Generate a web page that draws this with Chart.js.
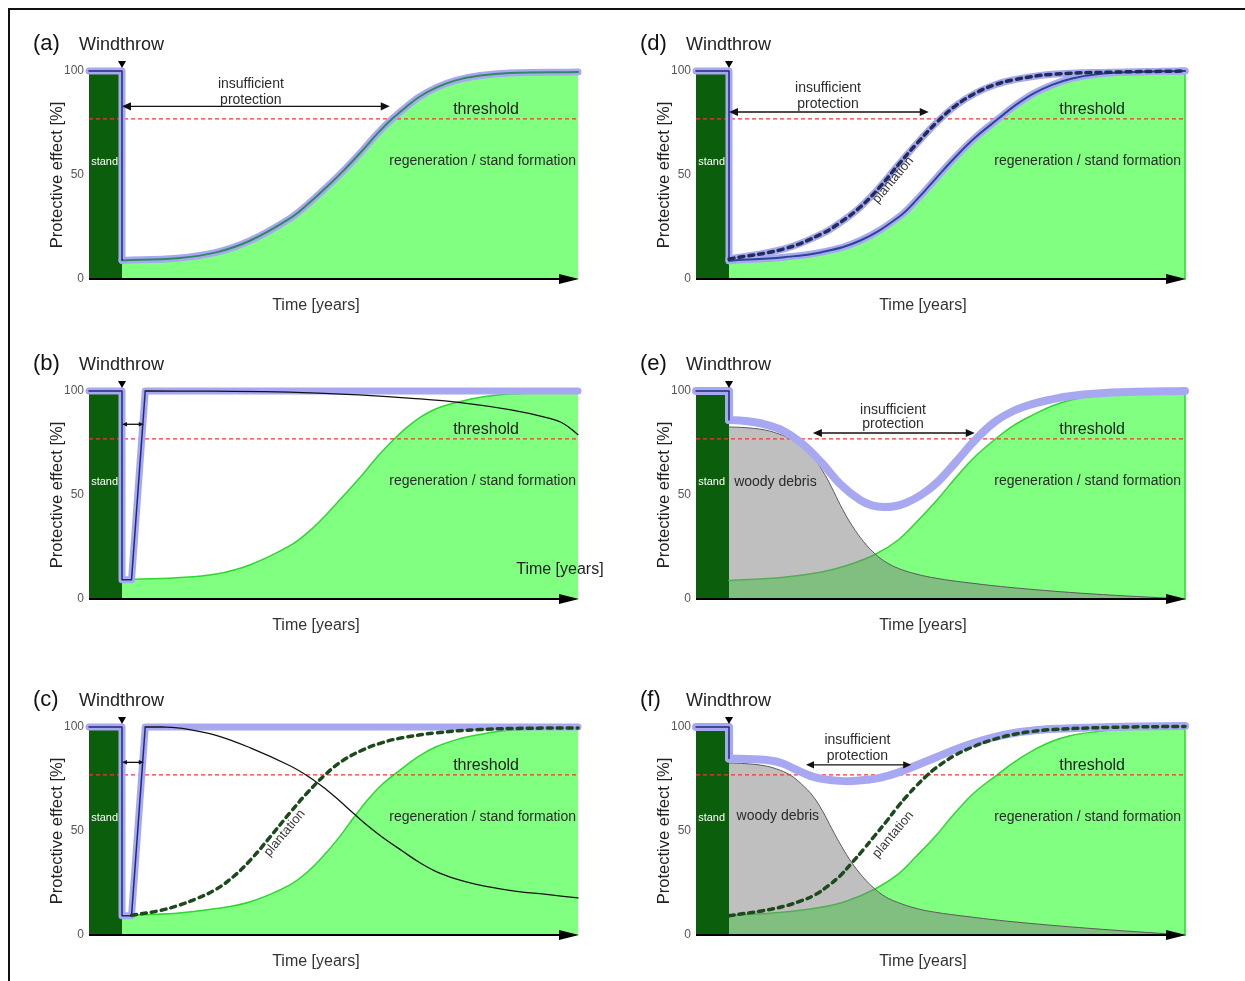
<!DOCTYPE html>
<html><head><meta charset="utf-8">
<script src="https://cdn.jsdelivr.net/npm/chart.js@4.4.1/dist/chart.umd.min.js"></script>
<style>
html,body{margin:0;padding:0;background:#fff;width:1245px;height:981px;overflow:hidden;position:relative;}
#frame{position:absolute;left:8px;top:8px;width:1300px;height:1000px;border-left:2px solid #111;border-top:2px solid #111;}
canvas{position:absolute;}
</style></head><body>
<div id="frame"></div>
<canvas id="pa" width="600" height="300" style="left:20px;top:25px;width:600px;height:300px"></canvas>
<canvas id="pb" width="600" height="300" style="left:20px;top:345px;width:600px;height:300px"></canvas>
<canvas id="pc" width="600" height="300" style="left:20px;top:681px;width:600px;height:300px"></canvas>
<canvas id="pd" width="600" height="300" style="left:627px;top:25px;width:600px;height:300px"></canvas>
<canvas id="pe" width="600" height="300" style="left:627px;top:345px;width:600px;height:300px"></canvas>
<canvas id="pf" width="600" height="300" style="left:627px;top:681px;width:600px;height:300px"></canvas>
<script>
// ---------- data (x = time, 0..100 arbitrary units; y = protective effect %) ----------
const Y_TICKS = [0, 50, 100];
const THRESHOLD = 77;
const STAND_END = 6.75;
const STAND_X = [0, 6.75];
const STAND_Y = [100, 100];
const THR_X = [0, 100];
const EDGE_X = [100, 100];
const EDGE_Y = [0, 99.5];

// (a) natural regeneration only
const dropXa = [0, 6.75, 6.75];
const dropYa = [100, 100, 9];
const regenXa = [6.75, 18, 26, 33, 41, 45, 48.5, 52, 56, 59, 62, 65, 67.5, 71, 75, 80, 86, 100];
const regenYa = [9, 10, 12.8, 18.5, 29, 36.5, 44, 52, 62, 70, 77, 83, 87.5, 92, 95.5, 97.8, 99, 99.5];

// (b) technical protection (ramp) + regeneration
const rampX = [0, 6.75, 6.75, 8.7, 11.5, 100];
const rampY = [100, 100, 9.3, 9.3, 100, 100];
const rampNavyX = [0, 6.75, 6.75, 8.7, 11.5];
const rampNavyY = [100, 100, 9.3, 9.3, 100];
const regenXb = [6.75, 18, 26, 33, 41, 45, 48.5, 52, 56, 59, 62, 65, 67.5, 71, 76, 81, 86, 100];
const regenYb = [9.3, 10.2, 12, 16.5, 25.5, 32.5, 40.5, 49.5, 60, 68.5, 76, 82.5, 87, 91.5, 95, 97.3, 98.5, 99.7];
const techXb = [11.5, 25, 41, 56, 66, 76, 86, 94, 97, 100];
const techYb = [100, 99.9, 99.5, 98, 96.5, 94.4, 91, 87, 84.4, 79];

// (c) technical protection + plantation + regeneration
const regenXc = [6.75, 18, 26, 33, 41, 45, 48.5, 51.5, 54, 57, 60, 64, 67.5, 71, 75, 79, 86, 100];
const regenYc = [9.5, 10.5, 12.7, 16, 24, 31, 39.5, 48, 56, 65, 72.5, 80, 86, 90.5, 93.8, 96, 98.4, 99.2];
const techXc = [11.5, 15, 20, 26, 33, 41, 45, 48.5, 51, 54, 57, 60, 64, 67.5, 71, 75, 79, 86, 94, 100];
const techYc = [100, 100, 99, 96, 90, 81.5, 76, 70, 65, 58.7, 52.5, 47, 40.5, 35, 30.5, 27, 24.5, 21.5, 19.4, 17.8];
const plantXc = [8.7, 14, 18, 22, 26, 29.5, 33, 37, 41, 44.5, 48.5, 52, 56, 60, 64, 71, 80, 90, 100];
const plantYc = [9.5, 11.5, 14, 17.5, 22, 28, 36, 47, 58.5, 68, 77.5, 84, 89, 92.5, 94.8, 97.2, 98.8, 99.4, 99.5];

// (d) plantation + regeneration
const dropXd = [0, 6.75, 6.75];
const dropYd = [100, 100, 8.8];
const regenXd = [6.75, 18, 25.7, 33.6, 41.4, 45.3, 49.3, 53.2, 57.1, 61.8, 65, 68.9, 72.8, 76.7, 82, 88.5, 100];
const regenYd = [8.8, 10.5, 12.9, 18.5, 29.7, 38.5, 49, 59, 68, 77, 83, 89, 93.3, 96.3, 98.4, 99.4, 100];
const plantXd = [6.75, 18, 25.7, 29.7, 33.6, 37.5, 41.4, 45.3, 49.3, 53.2, 57.1, 61, 65, 72.8, 84.5, 100];
const plantYd = [9.6, 14.5, 21.7, 27.5, 34.6, 44, 55, 65.5, 75.5, 83.5, 89.3, 93.3, 95.8, 98.4, 99.4, 100];

// (e) woody debris + regeneration
const dropXe = [0, 6.75, 6.75];
const dropYe = [100, 100, 86];
const totalXe = [6.75, 10, 14, 17.9, 21.8, 25.7, 29.6, 33.6, 36, 38.3, 40.6, 43, 46, 49.3, 53.2, 57.1, 61, 65, 68.9, 72.8, 76.7, 82, 88.5, 100];
const totalYe = [86, 85.6, 84, 80.8, 74.5, 65.5, 55, 47.5, 45, 44.2, 44.6, 46.3, 50, 56, 66, 76.5, 85, 90.5, 93.8, 96, 97.6, 98.8, 99.5, 100];
const debrisXe = [6.75, 10, 14, 17, 19.5, 22, 24.3, 26.3, 28.2, 30, 32, 34.3, 36.7, 39, 41.4, 45, 49.3, 55, 65, 80.6, 100];
const debrisYe = [82.7, 82.4, 81.3, 79.3, 76.8, 72.5, 67, 60, 51.5, 43, 35, 27.5, 21.5, 17.5, 14.7, 12, 9.9, 8, 5.4, 2.5, 0];
const regenXe = [6.75, 18, 25.7, 31, 36.7, 41.4, 45.3, 49.3, 53.2, 57.1, 61.8, 65, 68.9, 72.8, 76.7, 82, 88.5, 100];
const regenYe = [8.9, 10.5, 13, 16.2, 21.5, 28.5, 37.5, 47.6, 58.5, 68.5, 78, 83.5, 88.5, 92.8, 95.7, 97.8, 98.8, 99.2];

// (f) woody debris + plantation + regeneration
const dropXf = [0, 6.75, 6.75];
const dropYf = [100, 100, 84.8];
const totalXf = [6.75, 12, 15.5, 17.6, 20, 22, 24, 26.5, 29.4, 32, 34.9, 38, 41.2, 45, 49, 52.8, 56.9, 60.8, 64.7, 68.6, 72.5, 80, 90, 100];
const totalYf = [84.8, 84.5, 83.8, 82.6, 80, 77.8, 76, 74.8, 74.1, 74, 74.6, 75.8, 78, 81.5, 85.3, 89, 92.4, 95, 97, 98.2, 99, 99.7, 100.2, 100.5];
const plantXf = [6.75, 13.7, 18, 21.6, 24.5, 27, 29.5, 31.8, 34.2, 36.5, 38.9, 41.2, 43.2, 45.1, 47, 49, 52.9, 56.9, 60.8, 64.7, 68.6, 72.5, 84.3, 100];
const plantYf = [9.3, 11.7, 13.8, 16.5, 19.5, 23.6, 28.5, 34.5, 41, 47.6, 54.5, 61.5, 67, 71.8, 76.2, 80.2, 86.3, 90.7, 94, 96.3, 97.8, 98.7, 99.8, 100.3];
const debrisXf = [6.75, 10, 13.7, 16.5, 19.2, 21.6, 23.9, 25.9, 27.8, 29.8, 31.8, 34.1, 36.5, 38.8, 41.2, 45, 49, 55, 64.7, 80.4, 100];
const debrisYf = [82.7, 82.4, 81.5, 79.8, 77, 72.5, 66.8, 59.5, 51, 42.5, 35, 28, 22.3, 18.3, 15.7, 12.8, 10.9, 9, 6.4, 3.2, 0];
const regenXf = [6.75, 17.6, 25.5, 31, 36.5, 41.2, 45.1, 49, 52.9, 56.9, 61.6, 65, 68.6, 72.5, 76.5, 82, 88.2, 100];
const regenYf = [9.3, 10.9, 13.3, 16.5, 22, 29, 38, 47.6, 58.5, 68.4, 77, 83, 88.3, 92.8, 95.8, 97.8, 99, 99.5];

// ---------- styles ----------
const FONT = '"Liberation Sans", Arial, Helvetica, sans-serif';
const C = {stand:'#0b5e0b', fill:'#80ff80', gline:'#2bd92b', blue:'#a8a8f2', navy:'#1d2b7a', teal:'#2f8b5e',
  red:'#ff3030', dfill:'rgba(128,128,128,0.5)', dline:'#5a5a5a', dashG:'#1c4a1c', dashN:'#1f2e58', black:'#111', none:'rgba(0,0,0,0)'};

function P(xs, ys) { return xs.map((x, i) => ({x: x, y: ys[i]})); }
function L(xs, ys, o) {
  return Object.assign({data: P(xs, ys), pointRadius: 0, pointHoverRadius: 0, fill: false, clip: false,
    borderWidth: 1.5, borderColor: '#000', backgroundColor: C.none, tension: 0,
    borderCapStyle: 'round', borderJoinStyle: 'round'}, o);
}
function S(xs, ys, o) { return L(xs, ys, Object.assign({tension: 0.4}, o)); }

function common(regX, regY, withLine) {
  return [
    L(STAND_X, STAND_Y, {fill: 'origin', backgroundColor: C.stand, borderColor: C.none, borderWidth: 0, order: 9}),
    S(regX, regY, {fill: 'origin', backgroundColor: C.fill, borderColor: withLine ? C.gline : C.none, borderWidth: withLine ? 1.5 : 0, order: 8}),
    L(THR_X, [THRESHOLD, THRESHOLD], {borderColor: C.red, borderWidth: 1.3, borderDash: [4, 3], borderCapStyle: 'butt', order: 5})
  ];
}

function txt(ctx, s, x, y, size, color, align, rot) {
  ctx.save();
  ctx.font = size + 'px ' + FONT;
  ctx.fillStyle = color;
  ctx.textAlign = align;
  ctx.textBaseline = 'middle';
  ctx.translate(x, y);
  if (rot) ctx.rotate(rot * Math.PI / 180);
  ctx.fillText(s, 0, 0);
  ctx.restore();
}
function dblArrow(ctx, x1, x2, y, h) {
  const w = h * 0.45;
  ctx.save();
  ctx.strokeStyle = '#111'; ctx.fillStyle = '#111'; ctx.lineWidth = 1.3;
  ctx.beginPath(); ctx.moveTo(x1 + h * 0.5, y); ctx.lineTo(x2 - h * 0.5, y); ctx.stroke();
  ctx.beginPath(); ctx.moveTo(x1, y); ctx.lineTo(x1 + h, y - w); ctx.lineTo(x1 + h, y + w); ctx.closePath(); ctx.fill();
  ctx.beginPath(); ctx.moveTo(x2, y); ctx.lineTo(x2 - h, y - w); ctx.lineTo(x2 - h, y + w); ctx.closePath(); ctx.fill();
  ctx.restore();
}

function overlay(spec) {
  return {
    id: 'overlay',
    afterDraw(chart) {
      const ctx = chart.ctx, ca = chart.chartArea, sx = chart.scales.x, sy = chart.scales.y;
      const X = v => sx.getPixelForValue(v), Y = v => sy.getPixelForValue(v);
      ctx.save();
      // time axis with arrow
      ctx.strokeStyle = '#000'; ctx.lineWidth = 2;
      ctx.beginPath(); ctx.moveTo(X(0), Y(0)); ctx.lineTo(X(100) - 10, Y(0)); ctx.stroke();
      ctx.fillStyle = '#000';
      ctx.beginPath(); ctx.moveTo(X(100) + 1, Y(0)); ctx.lineTo(X(100) - 19, Y(0) - 5); ctx.lineTo(X(100) - 19, Y(0) + 5); ctx.closePath(); ctx.fill();
      // windthrow marker
      const wx = X(STAND_END), wy = Y(100);
      ctx.beginPath(); ctx.moveTo(wx - 4, wy - 10); ctx.lineTo(wx + 4, wy - 10); ctx.lineTo(wx, wy - 3); ctx.closePath(); ctx.fill();
      // headings
      txt(ctx, spec.letter, ca.left - 56, ca.top - 27, 22, '#111', 'left');
      txt(ctx, 'Windthrow', ca.left - 10, ca.top - 26, 18, '#222', 'left');
      txt(ctx, 'Time [years]', X(46.4), ca.bottom + 27, 16, '#333', 'center');
      (spec.arrows || []).forEach(a => dblArrow(ctx, X(a.x1), X(a.x2), Y(a.y), a.h));
      (spec.texts || []).forEach(t => txt(ctx, t.t, X(t.x), Y(t.y), t.s, t.c || '#2b2b2b', t.a || 'center', t.r || 0));
      ctx.restore();
    }
  };
}

function options() {
  return {
    responsive: false, maintainAspectRatio: false, animation: false, devicePixelRatio: 1, events: [],
    layout: {padding: {left: 0, right: 42, top: 46, bottom: 0}},
    plugins: {legend: {display: false}, tooltip: {enabled: false}, title: {display: false}},
    scales: {
      x: {type: 'linear', min: 0, max: 100, ticks: {display: false}, grid: {display: false, drawTicks: false},
          border: {display: false}, afterFit: s => { s.height = 46; }},
      y: {type: 'linear', min: 0, max: 100,
          afterBuildTicks: s => { s.ticks = Y_TICKS.map(v => ({value: v})); },
          ticks: {padding: 5, color: '#555', font: {family: FONT, size: 12}},
          grid: {display: false, drawTicks: false}, border: {display: false},
          title: {display: true, text: 'Protective effect [%]', color: '#222', font: {family: FONT, size: 16.5}, padding: {top: 28, bottom: 0}},
          afterFit: s => { s.width = 69; }}
    }
  };
}

function make(id, letter, datasets, spec) {
  spec.letter = letter;
  new Chart(document.getElementById(id), {type: 'line', data: {datasets: datasets}, options: options(), plugins: [overlay(spec)]});
}

const T_THR = x => ({t: 'threshold', x: x, y: 81.5, s: 16, c: '#222'});
const T_REG = x => ({t: 'regeneration / stand formation', x: x, y: 56.5, s: 14, a: 'right'});
const T_STAND = {t: 'stand', x: 3.2, y: 56.5, s: 11, c: '#fff'};

// (a)
make('pa', '(a)', common(regenXa, regenYa, false).concat([
  L(dropXa, dropYa, {borderColor: C.blue, borderWidth: 7, order: 4}),
  S(regenXa, regenYa, {borderColor: C.blue, borderWidth: 7, order: 4}),
  L(dropXa, dropYa, {borderColor: C.navy, borderWidth: 1.5, order: 3}),
  S(regenXa, regenYa, {borderColor: C.teal, borderWidth: 2, order: 3})
]), {
  arrows: [{x1: 6.75, x2: 61.5, y: 83, h: 9}],
  texts: [{t: 'insufficient', x: 33.1, y: 93.5, s: 14}, {t: 'protection', x: 33.1, y: 86, s: 14},
    T_THR(81.2), T_REG(99.6), T_STAND]
});

// (b)
make('pb', '(b)', common(regenXb, regenYb, true).concat([
  L(rampX, rampY, {borderColor: C.blue, borderWidth: 7, order: 4}),
  L(rampNavyX, rampNavyY, {borderColor: C.navy, borderWidth: 1.5, order: 3}),
  S(techXb, techYb, {borderColor: C.black, borderWidth: 1.3, order: 3})
]), {
  arrows: [{x1: 6.75, x2: 11.2, y: 84, h: 5}],
  texts: [T_THR(81.2), T_REG(99.6), T_STAND, {t: 'Time [years]', x: 96.3, y: 14, s: 16, c: '#222'}]
});

// (c)
make('pc', '(c)', common(regenXc, regenYc, true).concat([
  L(rampX, rampY, {borderColor: C.blue, borderWidth: 7, order: 4}),
  L(rampNavyX, rampNavyY, {borderColor: C.navy, borderWidth: 1.5, order: 3}),
  S(techXc, techYc, {borderColor: C.black, borderWidth: 1.3, order: 3}),
  S(plantXc, plantYc, {borderColor: C.dashG, borderWidth: 3.5, borderDash: [5, 5], order: 2})
]), {
  arrows: [{x1: 6.75, x2: 11.2, y: 83, h: 5}],
  texts: [T_THR(81.2), T_REG(99.6), T_STAND, {t: 'plantation', x: 40, y: 49, s: 13, r: -50, c: '#333'}]
});

// (d)
make('pd', '(d)', common(regenXd, regenYd, false).concat([
  L(EDGE_X, EDGE_Y, {borderColor: C.gline, borderWidth: 1.5, order: 6}),
  L(dropXd, dropYd, {borderColor: C.blue, borderWidth: 7, order: 4}),
  S(regenXd, regenYd, {borderColor: C.blue, borderWidth: 7, order: 4}),
  S(plantXd, plantYd, {borderColor: C.blue, borderWidth: 7, order: 4}),
  L(dropXd, dropYd, {borderColor: C.navy, borderWidth: 1.5, order: 3}),
  S(regenXd, regenYd, {borderColor: '#2a4596', borderWidth: 2, order: 3}),
  S(plantXd, plantYd, {borderColor: C.dashN, borderWidth: 3.5, borderDash: [5, 5], order: 2})
]), {
  arrows: [{x1: 6.75, x2: 47.6, y: 80.3, h: 9}],
  texts: [{t: 'insufficient', x: 27, y: 91.8, s: 14}, {t: 'protection', x: 27, y: 84.3, s: 14},
    T_THR(81), T_REG(99.2), T_STAND, {t: 'plantation', x: 40.3, y: 47.6, s: 13, r: -50, c: '#333'}]
});

// (e)
make('pe', '(e)', common(regenXe, regenYe, true).concat([
  L(EDGE_X, EDGE_Y, {borderColor: C.gline, borderWidth: 1.5, order: 6}),
  S(debrisXe, debrisYe, {fill: 'origin', backgroundColor: C.dfill, borderColor: C.dline, borderWidth: 1, order: 7}),
  L(dropXe, dropYe, {borderColor: C.blue, borderWidth: 8, order: 4}),
  S(totalXe, totalYe, {borderColor: C.blue, borderWidth: 8, order: 4}),
  L(dropXe, dropYe, {borderColor: C.navy, borderWidth: 1.5, order: 3})
]), {
  arrows: [{x1: 23.9, x2: 57, y: 79.8, h: 9}],
  texts: [{t: 'insufficient', x: 40.3, y: 90.9, s: 14}, {t: 'protection', x: 40.3, y: 84, s: 14},
    T_THR(81), T_REG(99.2), T_STAND, {t: 'woody debris', x: 7.8, y: 56.3, s: 14, a: 'left'}]
});

// (f)
make('pf', '(f)', common(regenXf, regenYf, true).concat([
  L(EDGE_X, EDGE_Y, {borderColor: C.gline, borderWidth: 1.5, order: 6}),
  S(debrisXf, debrisYf, {fill: 'origin', backgroundColor: C.dfill, borderColor: C.dline, borderWidth: 1, order: 7}),
  L(dropXf, dropYf, {borderColor: C.blue, borderWidth: 8, order: 4}),
  S(totalXf, totalYf, {borderColor: C.blue, borderWidth: 8, order: 4}),
  L(dropXf, dropYf, {borderColor: C.navy, borderWidth: 1.5, order: 3}),
  S(plantXf, plantYf, {borderColor: C.dashG, borderWidth: 3.5, borderDash: [5, 5], order: 2})
]), {
  arrows: [{x1: 22.5, x2: 44, y: 81.8, h: 8}],
  texts: [{t: 'insufficient', x: 33, y: 93.8, s: 14}, {t: 'protection', x: 33, y: 86.2, s: 14},
    T_THR(81), T_REG(99.2), T_STAND, {t: 'woody debris', x: 8.3, y: 57, s: 14, a: 'left'},
    {t: 'plantation', x: 40.3, y: 48.3, s: 13, r: -50, c: '#333'}]
});
</script>
</body></html>
